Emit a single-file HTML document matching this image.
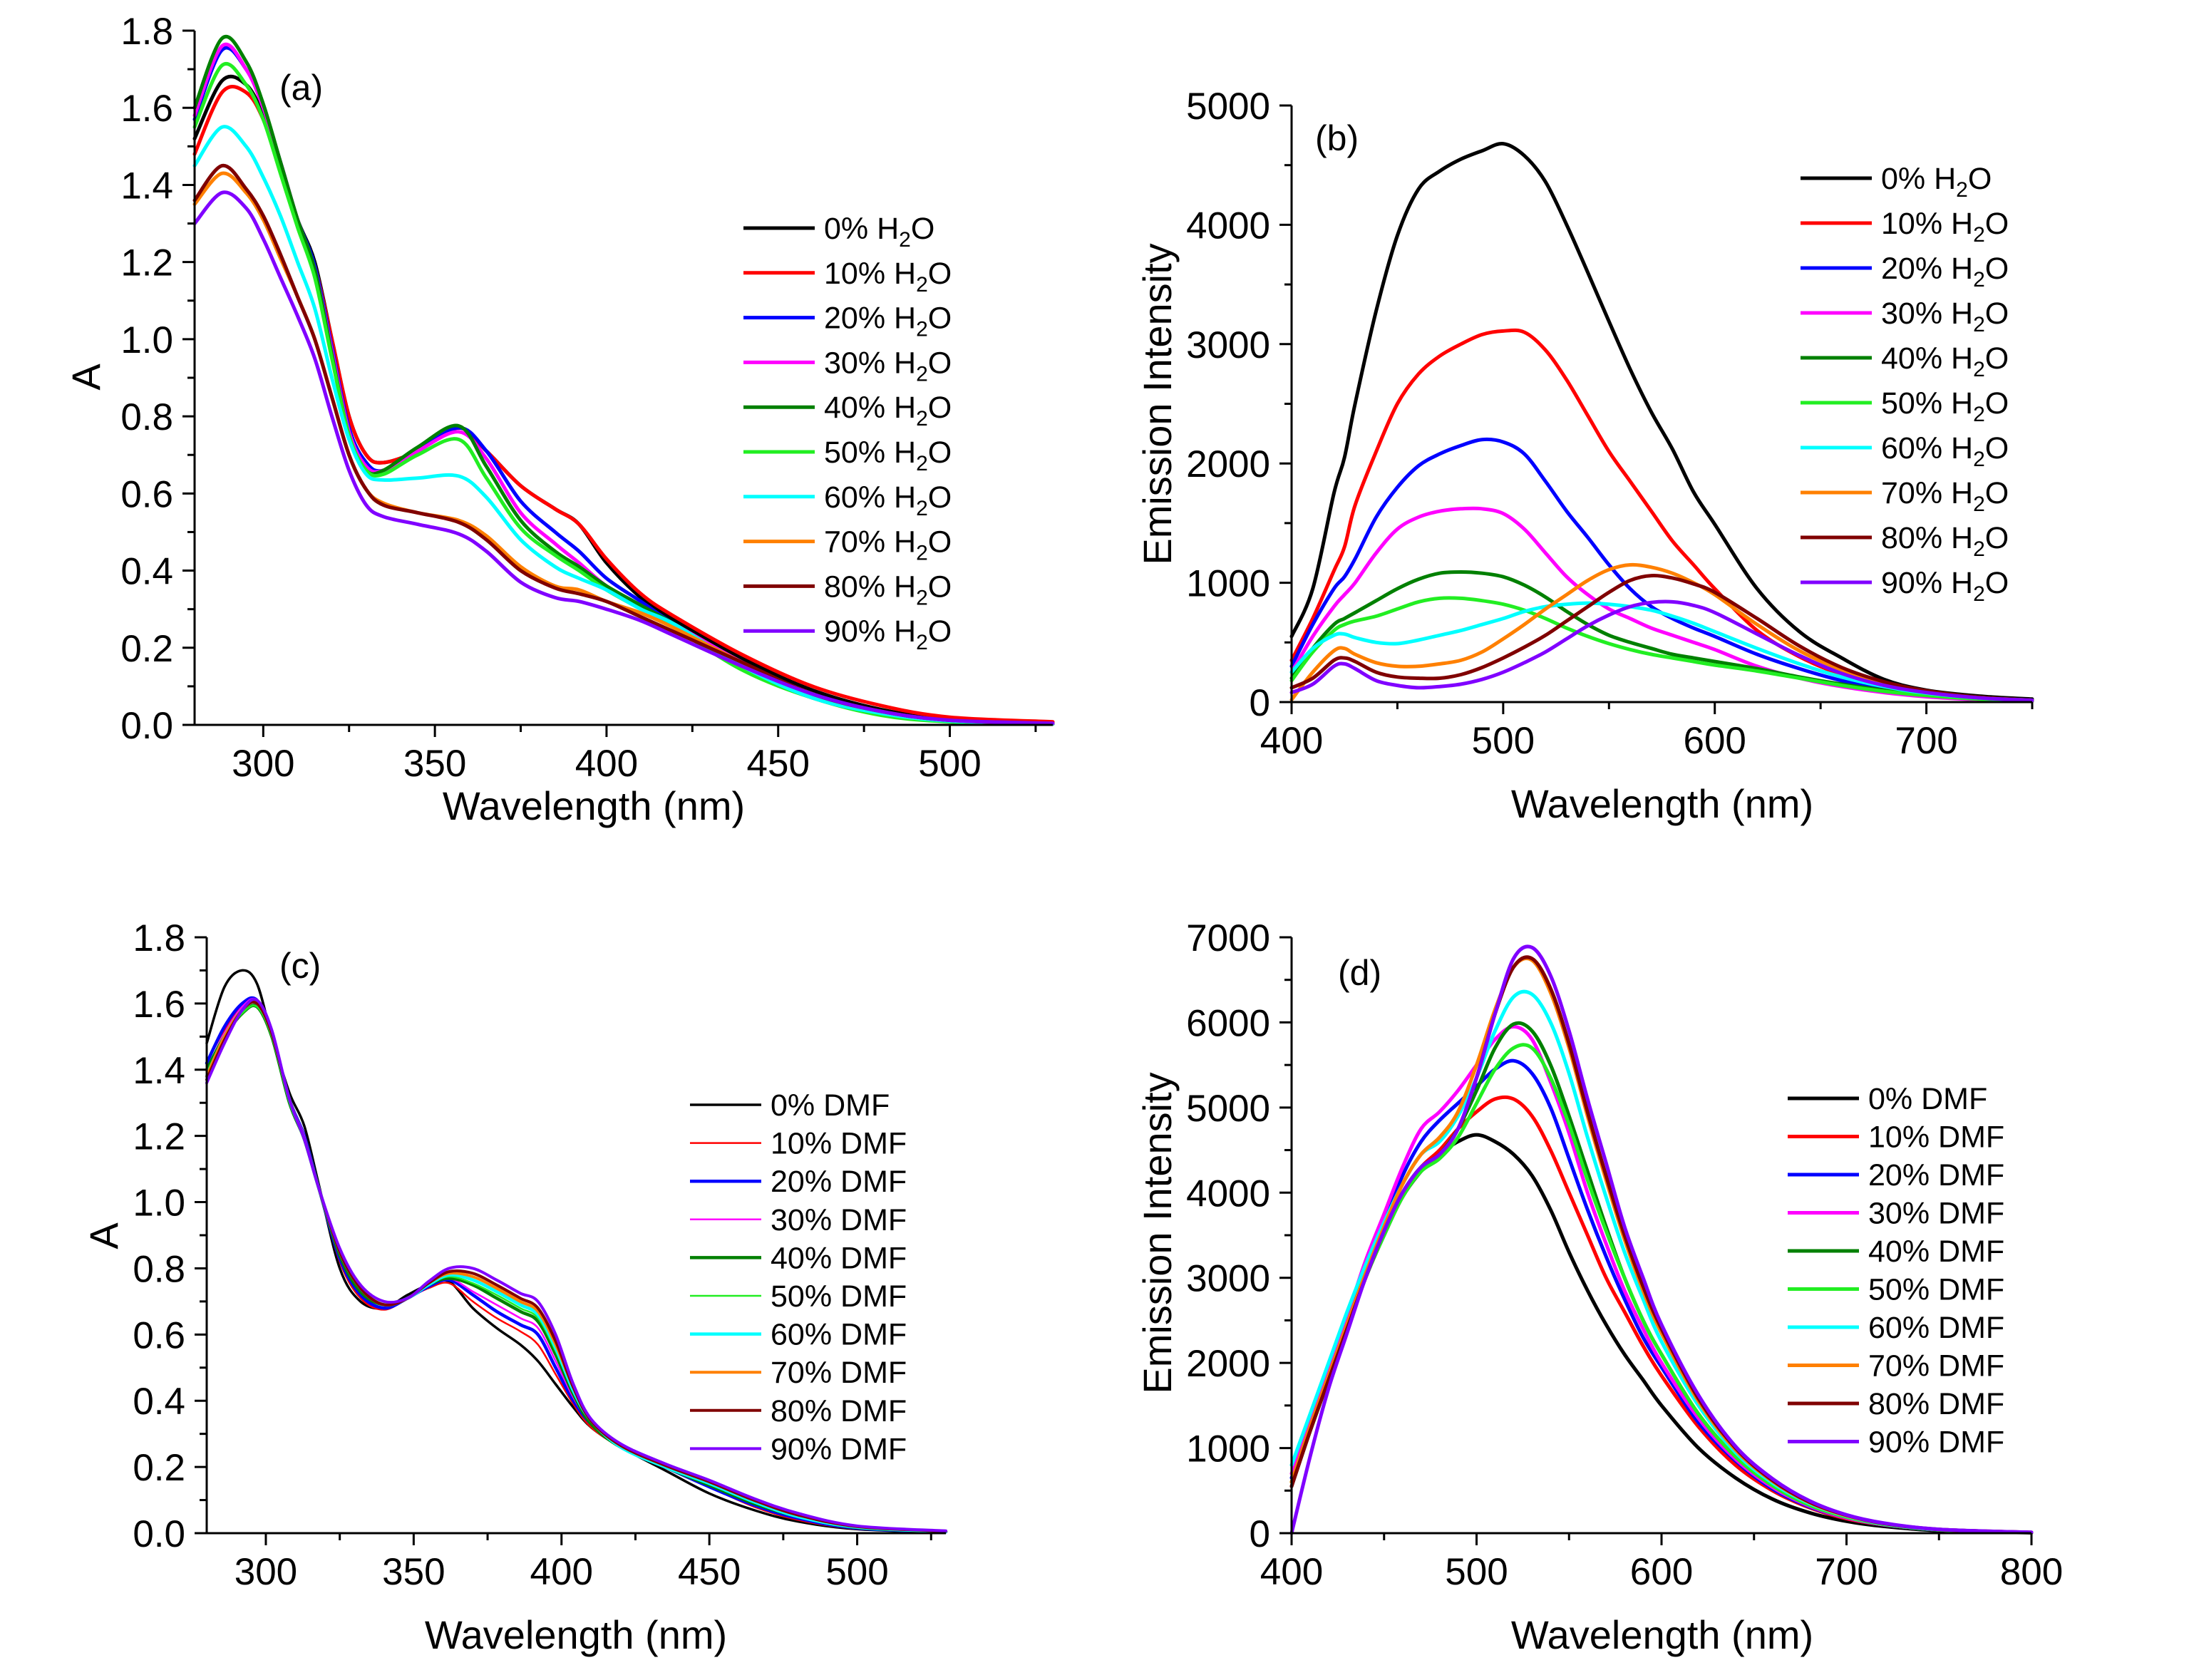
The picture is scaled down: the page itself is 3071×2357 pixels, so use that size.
<!DOCTYPE html>
<html><head><meta charset="utf-8"><style>
html,body{margin:0;padding:0;background:#fff;}
svg{display:block;font-family:"Liberation Sans",Arial,sans-serif;}
</style></head><body>
<svg id="fig" width="3071" height="2357" viewBox="0 0 3071 2357" xmlns="http://www.w3.org/2000/svg">
<rect x="0" y="0" width="3071" height="2357" fill="#fff"/>
</svg>
<script>
// ---------- shared ----------
const colors = ["#000000","#ff0000","#0000ff","#ff00ff","#008000","#22ee22","#00ffff","#ff8000","#800000","#8000ff"];
const pctLabels = ["0%","10%","20%","30%","40%","50%","60%","70%","80%","90%"];

// ---------- panel (a): absorbance vs H2O ----------
const aX = [280,288,295,300,305,310,315,320,325,330,335,345,357,365,375,385,392,400,410,420,440,460,480,500,530];
const aY = [
[1.52,1.67,1.66,1.58,1.45,1.31,1.20,1.00,0.80,0.70,0.68,0.71,0.77,0.71,0.62,0.56,0.52,0.42,0.33,0.27,0.17,0.09,0.04,0.015,0.005],
[1.48,1.64,1.64,1.57,1.44,1.30,1.19,1.00,0.80,0.70,0.68,0.71,0.77,0.71,0.62,0.56,0.52,0.43,0.34,0.28,0.18,0.10,0.05,0.02,0.008],
[1.57,1.75,1.70,1.60,1.46,1.31,1.19,0.98,0.77,0.68,0.66,0.71,0.77,0.71,0.58,0.50,0.45,0.38,0.32,0.26,0.16,0.08,0.03,0.01,0.003],
[1.58,1.76,1.70,1.60,1.46,1.31,1.18,0.97,0.76,0.67,0.66,0.71,0.76,0.69,0.55,0.47,0.42,0.36,0.31,0.26,0.16,0.08,0.03,0.01,0.003],
[1.60,1.78,1.72,1.61,1.46,1.31,1.18,0.96,0.75,0.66,0.66,0.72,0.775,0.67,0.53,0.45,0.41,0.36,0.31,0.26,0.15,0.07,0.03,0.01,0.003],
[1.55,1.71,1.66,1.57,1.43,1.29,1.16,0.95,0.75,0.66,0.65,0.70,0.74,0.64,0.51,0.44,0.40,0.35,0.30,0.25,0.14,0.07,0.025,0.008,0.002],
[1.45,1.55,1.50,1.42,1.32,1.20,1.08,0.90,0.74,0.65,0.635,0.64,0.645,0.59,0.48,0.41,0.38,0.35,0.30,0.26,0.15,0.07,0.03,0.01,0.003],
[1.35,1.43,1.38,1.31,1.21,1.11,1.00,0.85,0.70,0.61,0.575,0.55,0.53,0.49,0.41,0.36,0.35,0.32,0.29,0.25,0.16,0.08,0.035,0.012,0.004],
[1.36,1.45,1.39,1.32,1.22,1.11,1.00,0.85,0.70,0.61,0.57,0.55,0.525,0.48,0.40,0.355,0.34,0.32,0.28,0.24,0.16,0.08,0.035,0.012,0.004],
[1.30,1.38,1.34,1.26,1.16,1.06,0.95,0.80,0.66,0.57,0.54,0.52,0.495,0.45,0.37,0.33,0.32,0.30,0.27,0.23,0.15,0.08,0.035,0.012,0.004]
];
const aXTicks = ["300","350","400","450","500"];
const aYTicks = ["0.0","0.2","0.4","0.6","0.8","1.0","1.2","1.4","1.6","1.8"];

// ---------- panel (b): emission vs H2O ----------
const bX = [400,410,420,425,430,440,450,460,470,480,490,500,510,520,530,540,550,560,570,580,590,600,620,640,660,680,700,725,750];
const bY = [
[550,950,1750,2050,2500,3280,3910,4300,4450,4550,4620,4680,4580,4360,4000,3600,3190,2790,2430,2120,1760,1490,950,590,370,190,100,50,25],
[350,700,1100,1300,1650,2100,2500,2750,2900,3000,3080,3110,3100,2950,2700,2400,2100,1850,1600,1350,1150,950,600,380,230,130,70,35,15],
[300,650,950,1050,1200,1550,1800,1980,2080,2150,2200,2180,2080,1850,1600,1380,1150,950,800,700,620,550,400,280,180,110,60,30,12],
[250,550,800,900,1000,1250,1450,1550,1600,1620,1620,1580,1450,1250,1050,900,780,700,620,560,500,440,300,200,130,80,45,20,8],
[200,450,650,700,750,850,950,1030,1080,1090,1080,1050,980,880,760,650,560,500,450,400,370,340,280,210,150,100,60,30,10],
[180,420,600,650,680,720,780,840,870,870,850,820,770,700,620,550,490,440,400,370,340,310,260,200,140,90,55,25,10],
[250,450,560,570,540,500,490,520,560,600,650,700,760,800,820,830,820,800,770,720,660,590,450,320,210,130,75,35,15],
[20,250,430,450,400,330,300,300,320,350,420,530,650,780,900,1020,1110,1150,1130,1080,1000,900,650,430,270,160,90,40,15],
[120,200,350,370,340,250,210,200,200,230,290,370,460,560,680,800,920,1020,1060,1040,990,920,700,470,290,170,95,40,15],
[80,150,300,320,280,180,140,120,130,150,190,250,330,420,530,640,730,800,835,840,810,750,570,390,240,140,80,35,15]
];
const bXTicks = ["400","500","600","700"];
const bYTicks = ["0","1000","2000","3000","4000","5000"];

// ---------- panel (c): absorbance vs DMF ----------
const cX = [280,286,292,297,302,308,313,318,325,332,340,348,355,362,370,378,386,392,398,404,410,420,435,450,465,480,500,530];
const cY = [
[1.48,1.65,1.70,1.66,1.50,1.33,1.23,1.05,0.80,0.70,0.68,0.72,0.75,0.76,0.68,0.62,0.57,0.52,0.45,0.38,0.32,0.26,0.19,0.12,0.07,0.035,0.012,0.003],
[1.42,1.52,1.59,1.60,1.50,1.30,1.20,1.04,0.82,0.71,0.675,0.71,0.74,0.755,0.70,0.65,0.61,0.57,0.48,0.39,0.32,0.26,0.20,0.14,0.08,0.04,0.013,0.003],
[1.42,1.53,1.60,1.61,1.51,1.31,1.20,1.04,0.83,0.72,0.68,0.71,0.745,0.765,0.72,0.67,0.63,0.60,0.50,0.40,0.33,0.26,0.20,0.14,0.085,0.045,0.015,0.004],
[1.40,1.51,1.59,1.61,1.51,1.31,1.20,1.04,0.84,0.73,0.69,0.71,0.75,0.77,0.73,0.69,0.65,0.62,0.52,0.41,0.33,0.26,0.20,0.145,0.09,0.05,0.017,0.005],
[1.40,1.50,1.57,1.59,1.50,1.30,1.19,1.04,0.84,0.73,0.69,0.71,0.75,0.77,0.75,0.71,0.67,0.64,0.54,0.42,0.33,0.26,0.20,0.145,0.09,0.05,0.017,0.005],
[1.39,1.50,1.57,1.59,1.50,1.30,1.19,1.04,0.85,0.74,0.69,0.71,0.75,0.775,0.755,0.72,0.68,0.65,0.55,0.43,0.34,0.26,0.20,0.15,0.095,0.05,0.018,0.005],
[1.38,1.50,1.58,1.60,1.51,1.31,1.19,1.04,0.85,0.74,0.69,0.71,0.75,0.78,0.765,0.73,0.69,0.66,0.56,0.43,0.34,0.26,0.20,0.15,0.095,0.05,0.018,0.005],
[1.38,1.50,1.58,1.60,1.51,1.31,1.19,1.04,0.85,0.74,0.69,0.71,0.755,0.785,0.775,0.74,0.70,0.67,0.57,0.44,0.34,0.265,0.205,0.155,0.10,0.055,0.02,0.006],
[1.37,1.49,1.58,1.60,1.51,1.31,1.19,1.04,0.85,0.74,0.69,0.71,0.755,0.79,0.785,0.75,0.71,0.68,0.58,0.44,0.34,0.265,0.205,0.155,0.10,0.055,0.02,0.006],
[1.36,1.48,1.58,1.61,1.52,1.31,1.19,1.04,0.86,0.75,0.70,0.71,0.76,0.80,0.80,0.765,0.725,0.70,0.60,0.45,0.345,0.27,0.21,0.16,0.105,0.06,0.022,0.007]
];
const cXTicks = ["300","350","400","450","500"];
const cYTicks = ["0.0","0.2","0.4","0.6","0.8","1.0","1.2","1.4","1.6","1.8"];

// ---------- panel (d): emission vs DMF ----------
const dX = [400,410,420,430,440,450,460,470,480,490,500,510,520,530,540,550,560,570,580,590,600,620,640,660,680,700,720,750,800];
const dY = [
[550,1200,1800,2400,3000,3500,3950,4250,4450,4600,4680,4600,4450,4200,3800,3300,2850,2450,2100,1800,1500,1000,650,400,240,140,80,30,5],
[600,1250,1850,2450,3050,3550,4000,4300,4500,4750,4950,5100,5100,4900,4500,4000,3500,3000,2600,2200,1850,1250,800,500,300,170,100,40,8],
[650,1300,1900,2500,3100,3650,4200,4600,4850,5050,5250,5450,5550,5400,5000,4400,3800,3250,2750,2300,1950,1300,850,520,310,180,100,40,8],
[700,1350,1950,2550,3200,3750,4300,4750,4950,5200,5500,5800,5950,5800,5300,4700,4000,3400,2850,2400,2000,1350,870,540,320,180,100,40,8],
[600,1250,1850,2450,3050,3550,4000,4300,4450,4750,5200,5700,5980,5900,5500,4900,4250,3600,3000,2500,2100,1400,900,560,330,190,105,40,8],
[600,1200,1800,2400,3000,3500,3950,4250,4400,4650,5050,5450,5700,5700,5350,4800,4150,3550,3000,2500,2100,1400,900,560,330,190,105,40,8],
[800,1400,2000,2600,3150,3650,4100,4450,4600,4900,5350,5900,6300,6330,6000,5400,4650,3950,3300,2750,2250,1500,950,590,350,200,110,42,8],
[600,1250,1850,2450,3050,3600,4100,4450,4650,4950,5500,6150,6650,6730,6350,5700,4900,4150,3450,2850,2350,1550,980,610,360,205,115,44,9],
[550,1200,1800,2400,3000,3550,4000,4300,4450,4750,5350,6100,6650,6750,6400,5750,4950,4200,3500,2900,2400,1580,1000,620,365,210,115,44,9],
[0,900,1700,2350,3000,3550,4000,4300,4450,4750,5350,6100,6750,6880,6550,5900,5100,4350,3600,3000,2450,1620,1020,640,380,215,120,45,10]
];
const dXTicks = ["400","500","600","700","800"];
const dYTicks = ["0","1000","2000","3000","4000","5000","6000","7000"];

// ---------- drawing ----------
const NS = "http://www.w3.org/2000/svg";
const svg = document.getElementById("fig");
function mk(tag, attrs, parent){
  const e = document.createElementNS(NS, tag);
  for (const k in attrs) e.setAttribute(k, attrs[k]);
  (parent||svg).appendChild(e);
  return e;
}
function smoothPath(pts){
  let d = "M" + pts[0][0].toFixed(1) + "," + pts[0][1].toFixed(1);
  for (let i=0;i<pts.length-1;i++){
    const p0 = pts[Math.max(0,i-1)], p1 = pts[i], p2 = pts[i+1], p3 = pts[Math.min(pts.length-1,i+2)];
    const c1x = p1[0] + (p2[0]-p0[0])/6, c1y = p1[1] + (p2[1]-p0[1])/6;
    const c2x = p2[0] - (p3[0]-p1[0])/6, c2y = p2[1] - (p3[1]-p1[1])/6;
    d += " C" + c1x.toFixed(1)+","+c1y.toFixed(1)+" "+c2x.toFixed(1)+","+c2y.toFixed(1)+" "+p2[0].toFixed(1)+","+p2[1].toFixed(1);
  }
  return d;
}

function drawPanel(cfg){
  const g = mk("g", {});
  
  
  const sx = v => cfg.px0 + (v - cfg.x0) / (cfg.x1 - cfg.x0) * (cfg.px1 - cfg.px0);
  const sy = v => cfg.py0 - (v - cfg.y0) / (cfg.y1 - cfg.y0) * (cfg.py0 - cfg.py1);

  const sg = mk("g", {}, g);
  
  
  for (let s=0;s<cfg.ys.length;s++){
    const pts = cfg.xs.map((x,i)=>[sx(x), sy(cfg.ys[s][i])]);
    const p = mk("path", {d: smoothPath(pts), fill:"none", stroke: colors[s], "stroke-width": cfg.lw[s], "stroke-linejoin":"round", "stroke-linecap":"round"}, sg);
    
    
  }

  const ax = mk("g", {stroke:"#000", "stroke-width":3, fill:"none"}, g);
  
  
  const yl = mk("line", {x1: cfg.px0, y1: cfg.py0+1.5, x2: cfg.px0, y2: cfg.py1}, ax);
  
  
  const xl = mk("line", {x1: cfg.px0-16, y1: cfg.py0, x2: cfg.px1, y2: cfg.py0}, ax);
  
  

  const xTickVals = cfg.xTicks.map(Number);
  const xStep = xTickVals[1]-xTickVals[0];
  let start = Math.ceil(cfg.x0/(xStep/2))*(xStep/2);
  for (let v = start; v <= cfg.x1+0.001; v += xStep/2){
    const major = Math.abs(v/xStep - Math.round(v/xStep)) < 0.001;
    const t = mk("line", {x1: sx(v), y1: cfg.py0, x2: sx(v), y2: cfg.py0 + (major?17:10)}, ax);
    
    
  }
  cfg.xTicks.forEach(lbl=>{
    const t = mk("text", {x: sx(Number(lbl)), y: cfg.py0 + 72, "font-size":53, "text-anchor":"middle", fill:"#000"}, g);
    t.textContent = lbl;
    
    
  });
  const yTickVals = cfg.yTicks.map(Number);
  const yStep = yTickVals[1]-yTickVals[0];
  const nMinor = Math.round((cfg.y1-cfg.y0)/(yStep/2));
  for (let i=0;i<=nMinor;i++){
    const v = cfg.y0 + i*yStep/2;
    const major = i%2===0;
    const t = mk("line", {x1: cfg.px0, y1: sy(v), x2: cfg.px0 - (major?17:10), y2: sy(v)}, ax);
    
    
  }
  cfg.yTicks.forEach(lbl=>{
    const t = mk("text", {x: cfg.px0 - 30, y: sy(Number(lbl)) + 19, "font-size":53, "text-anchor":"end", fill:"#000"}, g);
    t.textContent = lbl;
    
    
  });

  const xt = mk("text", {x: cfg.xtX, y: cfg.xtY, "font-size":56, "text-anchor":"middle", fill:"#000"}, g);
  xt.textContent = "Wavelength (nm)";
  
  
  const yt = mk("text", {x: 0, y: 0, "font-size":56, "text-anchor":"middle", fill:"#000", transform:"translate(" + cfg.ytX + "," + cfg.ytY + ") rotate(-90)"}, g);
  yt.textContent = cfg.yTitle;
  
  

  const pl = mk("text", {x: cfg.plX, y: cfg.plY, "font-size":50, fill:"#000"}, g);
  pl.textContent = "(" + cfg.id + ")";
  
  

  const lg = mk("g", {}, g);
  
  
  for (let s=0;s<10;s++){
    const y = cfg.lgY + s*cfg.lgDy;
    const e = mk("g", {}, lg);
    
    
    const l = mk("line", {x1: cfg.lgX, y1: y, x2: cfg.lgX + 100, y2: y, stroke: colors[s], "stroke-width": cfg.lgLw[s]}, e);
    
    
    const t = mk("text", {x: cfg.lgX + 113, y: y + 15, "font-size":43, fill:"#000"}, e);
    
    
    if (cfg.solvent === "H2O"){
      t.textContent = pctLabels[s] + " H";
      const sub = mk("tspan", {"font-size":30, dy: 11}, t);
      sub.textContent = "2";
      const o = mk("tspan", {dy: -11}, t);
      o.textContent = "O";
    } else {
      t.textContent = pctLabels[s] + " DMF";
    }
  }
}

const thick = [5,5,5,5,5,5,5,5,5,5];
drawPanel({id:"a", xs:aX, ys:aY, x0:280, x1:530, y0:0, y1:1.8, px0:273, px1:1477, py0:1017, py1:43,
  xTicks:aXTicks, yTicks:aYTicks, lw:thick, lgLw:thick, yTitle:"A",
  xtX:833, xtY:1150, ytX:140, ytY:529, plX:392, plY:140,
  lgX:1043, lgY:320, lgDy:62.8, solvent:"H2O"});
drawPanel({id:"b", xs:bX, ys:bY, x0:400, x1:750, y0:0, y1:5000, px0:1812, px1:2851, py0:985, py1:148,
  xTicks:bXTicks, yTicks:bYTicks, lw:thick, lgLw:thick, yTitle:"Emission Intensity",
  xtX:2332, xtY:1147, ytX:1643, ytY:567, plX:1845, plY:211,
  lgX:2526, lgY:250, lgDy:63, solvent:"H2O"});
const thin = [3.5,2.5,4.5,2.5,4.5,2.5,4.5,4,4,4];
drawPanel({id:"c", xs:cX, ys:cY, x0:280, x1:530, y0:0, y1:1.8, px0:290, px1:1327, py0:2151, py1:1315,
  xTicks:cXTicks, yTicks:cYTicks, lw:thin, lgLw:thin, yTitle:"A",
  xtX:808, xtY:2313, ytX:165, ytY:1734, plX:392, plY:1372,
  lgX:968, lgY:1550, lgDy:53.6, solvent:"DMF"});
drawPanel({id:"d", xs:dX, ys:dY, x0:400, x1:800, y0:0, y1:7000, px0:1812, px1:2850, py0:2151, py1:1315,
  xTicks:dXTicks, yTicks:dYTicks, lw:thick, lgLw:thick, yTitle:"Emission Intensity",
  xtX:2332, xtY:2313, ytX:1643, ytY:1730, plX:1877, plY:1382,
  lgX:2508, lgY:1541, lgDy:53.5, solvent:"DMF"});
</script>
</body></html>
